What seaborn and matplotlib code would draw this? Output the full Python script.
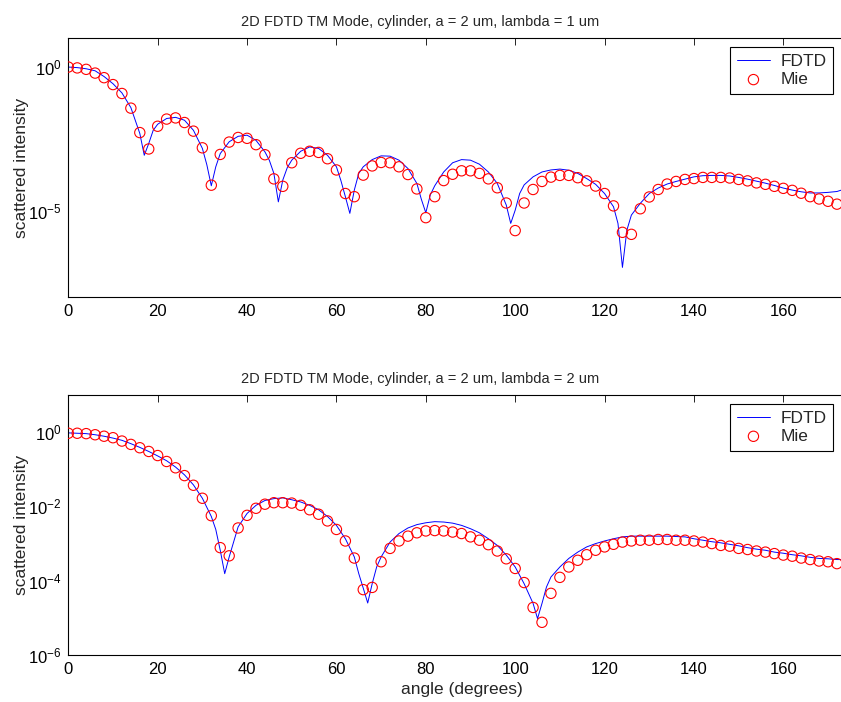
import numpy as np
import pandas as pd
import seaborn as sns
import matplotlib
matplotlib.use("Agg")
import matplotlib.pyplot as plt
from matplotlib.ticker import FixedLocator, FixedFormatter

# ---- data (log10 of scattered intensity) ----
# lambda = 1 um
mie1_log = [0.00, -0.03, -0.08, -0.21, -0.37, -0.61, -0.92, -1.43, -2.28, -2.85,
            -2.06, -1.81, -1.77, -1.93, -2.23, -2.81, -4.11, -3.04, -2.61, -2.45,
            -2.48, -2.70, -3.05, -3.89, -4.15, -3.33, -3.00, -2.93, -2.97, -3.19,
            -3.58, -4.40, -4.51, -3.76, -3.44, -3.32, -3.33, -3.47, -3.74, -4.24,
            -5.24, -4.51, -3.95, -3.73, -3.61, -3.61, -3.70, -3.89, -4.20, -4.73,
            -5.69, -4.73, -4.26, -3.98, -3.83, -3.77, -3.77, -3.85, -3.96, -4.14,
            -4.40, -4.83, -5.75, -5.82, -4.93, -4.52, -4.26, -4.07, -3.98, -3.91,
            -3.88, -3.84, -3.84, -3.84, -3.86, -3.91, -3.96, -4.03, -4.08, -4.15,
            -4.22, -4.29, -4.39, -4.51, -4.59, -4.67, -4.77]
fdtd1_angle = [0, 2, 4, 6, 8, 10, 12, 14, 16, 17, 18, 19, 20, 22, 24, 26, 28, 30, 31, 32,
               33, 34, 36, 38, 40, 42, 44, 45, 46, 47, 48, 49, 50, 52, 54, 56, 58, 60, 61, 62,
               63, 64, 65, 66, 68, 70, 72, 74, 76, 78, 79, 80, 81, 82, 84, 86, 88, 90, 92, 94,
               96, 98, 99, 100, 101, 102, 104, 106, 108, 110, 112, 114, 116, 118, 120, 122, 123, 124, 125, 126,
               128, 130, 132, 134, 136, 138, 140, 142, 144, 146, 148, 150, 152, 154, 156, 158, 160, 162, 164, 166,
               168, 170, 172, 173]
fdtd1_log = [0.00, -0.02, -0.06, -0.13, -0.33, -0.58, -0.90, -1.41, -2.31, -3.07, -2.66, -2.20, -1.99, -1.79, -1.75, -1.85, -2.20, -2.83, -3.40, -4.13,
             -3.47, -3.01, -2.60, -2.41, -2.37, -2.55, -2.95, -3.25, -3.70, -4.69, -3.93, -3.50, -3.24, -2.93, -2.78, -2.83, -3.07, -3.47, -3.95, -4.51,
             -5.09, -4.28, -3.70, -3.47, -3.22, -3.09, -3.10, -3.24, -3.53, -4.05, -4.60, -5.07, -4.45, -4.13, -3.65, -3.33, -3.22, -3.24, -3.38, -3.65,
             -4.05, -4.80, -5.44, -4.98, -4.40, -4.10, -3.82, -3.65, -3.58, -3.55, -3.59, -3.70, -3.88, -4.08, -4.40, -4.86, -5.44, -6.97, -5.67, -5.15,
             -4.74, -4.40, -4.21, -4.07, -3.98, -3.90, -3.82, -3.78, -3.77, -3.77, -3.79, -3.84, -3.90, -3.97, -4.04, -4.12, -4.21, -4.28, -4.34, -4.38,
             -4.38, -4.36, -4.33, -4.28]

# lambda = 2 um
mie2_log = [-0.03, -0.03, -0.04, -0.07, -0.11, -0.15, -0.24, -0.33, -0.42, -0.52,
            -0.63, -0.79, -0.96, -1.17, -1.43, -1.78, -2.25, -3.11, -3.33, -2.58,
            -2.24, -2.05, -1.94, -1.90, -1.90, -1.91, -1.97, -2.09, -2.21, -2.39,
            -2.62, -2.93, -3.39, -4.24, -4.18, -3.49, -3.13, -2.93, -2.80, -2.71,
            -2.66, -2.65, -2.66, -2.69, -2.73, -2.82, -2.91, -3.03, -3.20, -3.41,
            -3.67, -4.05, -4.72, -5.12, -4.34, -3.91, -3.63, -3.45, -3.30, -3.18,
            -3.09, -3.02, -2.96, -2.93, -2.91, -2.91, -2.89, -2.89, -2.91, -2.91,
            -2.93, -2.96, -3.00, -3.05, -3.07, -3.13, -3.16, -3.20, -3.23, -3.27,
            -3.31, -3.34, -3.39, -3.43, -3.47, -3.49, -3.54]
fdtd2_angle = [0, 2, 4, 6, 8, 10, 12, 14, 16, 18, 20, 22, 24, 26, 28, 30, 32, 33, 34, 35,
               36, 38, 40, 42, 44, 46, 48, 50, 52, 54, 56, 58, 60, 62, 64, 65, 66, 67, 68, 69,
               70, 72, 74, 76, 78, 80, 82, 84, 86, 88, 90, 92, 94, 96, 98, 100, 102, 104, 105, 106,
               107, 108, 110, 112, 114, 116, 118, 120, 122, 124, 126, 128, 130, 132, 134, 136, 138, 140, 142, 144,
               146, 148, 150, 152, 154, 156, 158, 160, 162, 164, 166, 168, 170, 172, 173]
fdtd2_log = [-0.02, -0.03, -0.04, -0.07, -0.11, -0.16, -0.22, -0.31, -0.41, -0.52, -0.64, -0.77, -0.94, -1.15, -1.42, -1.78, -2.27, -2.62, -3.18, -3.81,
             -3.36, -2.55, -2.19, -1.97, -1.84, -1.79, -1.77, -1.82, -1.88, -1.97, -2.09, -2.27, -2.51, -2.87, -3.36, -3.81, -4.20, -4.60, -4.08, -3.63,
             -3.36, -2.96, -2.73, -2.58, -2.49, -2.44, -2.41, -2.42, -2.45, -2.51, -2.60, -2.71, -2.87, -3.05, -3.31, -3.63, -4.08, -4.61, -5.02, -4.61,
             -4.17, -3.90, -3.63, -3.40, -3.23, -3.09, -3.00, -2.93, -2.87, -2.82, -2.80, -2.80, -2.80, -2.80, -2.80, -2.81, -2.82, -2.87, -2.91, -2.95,
             -2.98, -3.02, -3.06, -3.11, -3.15, -3.18, -3.23, -3.26, -3.30, -3.33, -3.37, -3.40, -3.41, -3.43, -3.43]

titles = ["2D FDTD TM Mode, cylinder, a = 2 um, lambda = 1 um",
          "2D FDTD TM Mode, cylinder, a = 2 um, lambda = 2 um"]
xticks = [0, 20, 40, 60, 80, 100, 120, 140, 160]

sns.set_theme(style="white")
plt.rcParams["font.family"] = ["Liberation Sans", "DejaVu Sans"]
plt.rcParams["mathtext.fontset"] = "custom"
plt.rcParams["mathtext.rm"] = "Liberation Sans"
plt.rcParams["mathtext.default"] = "regular"

W, H = 841, 702
fig = plt.figure(figsize=(W / 100, H / 100), dpi=100)

def px_axes(left, top, right, bottom):
    return fig.add_axes([left / W, 1 - bottom / H, (right - left) / W, (bottom - top) / H])

panels = [
    dict(ax=px_axes(68.3, 38.3, 872.7, 297), mie=mie1_log, fa=fdtd1_angle, fl=fdtd1_log,
         ylim=(1e-8, 1e1), ticks=list(range(0, -8, -1)), labeled=[0, -5], leg_top=47.3),
    dict(ax=px_axes(68.3, 395, 872.7, 655), mie=mie2_log, fa=fdtd2_angle, fl=fdtd2_log,
         ylim=(1e-6, 1e1), ticks=list(range(0, -7, -1)), labeled=[0, -2, -4, -6], leg_top=404),
]

for i, p in enumerate(panels):
    ax = p["ax"]
    fdtd = pd.DataFrame({"angle": p["fa"], "intensity": 10.0 ** np.array(p["fl"])})
    mie = pd.DataFrame({"angle": range(0, 2 * len(p["mie"]), 2),
                        "intensity": 10.0 ** np.array(p["mie"])})
    sns.lineplot(data=fdtd, x="angle", y="intensity", ax=ax, color="#0000ff",
                 lw=0.7, label="FDTD", sort=False)
    sns.scatterplot(data=mie, x="angle", y="intensity", ax=ax, marker="o", s=55,
                    facecolors="none", edgecolor="#ff0000", linewidth=0.8, label="Mie", zorder=3)
    ax.set_yscale("log")
    ax.set_xlim(0, 180)
    ax.set_ylim(*p["ylim"])
    ax.xaxis.set_major_locator(FixedLocator(xticks))
    ax.set_xticklabels([str(v) for v in xticks])
    ax.yaxis.set_major_locator(FixedLocator([10.0 ** k for k in p["ticks"]]))
    ax.yaxis.set_major_formatter(FixedFormatter(
        ["$10^{%d}$" % k if k in p["labeled"] else "" for k in p["ticks"]]))
    ax.yaxis.set_minor_locator(FixedLocator([]))
    ax.tick_params(direction="in", top=True, right=True, length=5, width=0.6,
                   labelsize=12, colors="black", pad=5)
    for s in ax.spines.values():
        s.set_color("black")
        s.set_linewidth(0.8)
    ax.set_title(titles[i], fontsize=10.5, x=0.437, pad=9)
    ax.set_ylabel("scattered intensity", fontsize=12.5)
    ax.yaxis.set_label_coords(-0.049, 0.5)
    if i == 1:
        ax.set_xlabel("angle (degrees)", fontsize=12.5)
        ax.xaxis.set_label_coords(0.489, -0.105)
    else:
        ax.set_xlabel("")
    h, l = ax.get_legend_handles_labels()
    leg = ax.legend(h, l, loc="upper left", bbox_to_anchor=(730 / W, 1 - p["leg_top"] / H),
                    bbox_transform=fig.transFigure, fontsize=12.5, frameon=True, fancybox=False,
                    framealpha=1, edgecolor="black", borderpad=0.4, handlelength=1.9,
                    labelspacing=0.15, handletextpad=0.6, borderaxespad=0)
    leg.get_frame().set_linewidth(0.8)

fig.savefig("out.png", dpi=100)
